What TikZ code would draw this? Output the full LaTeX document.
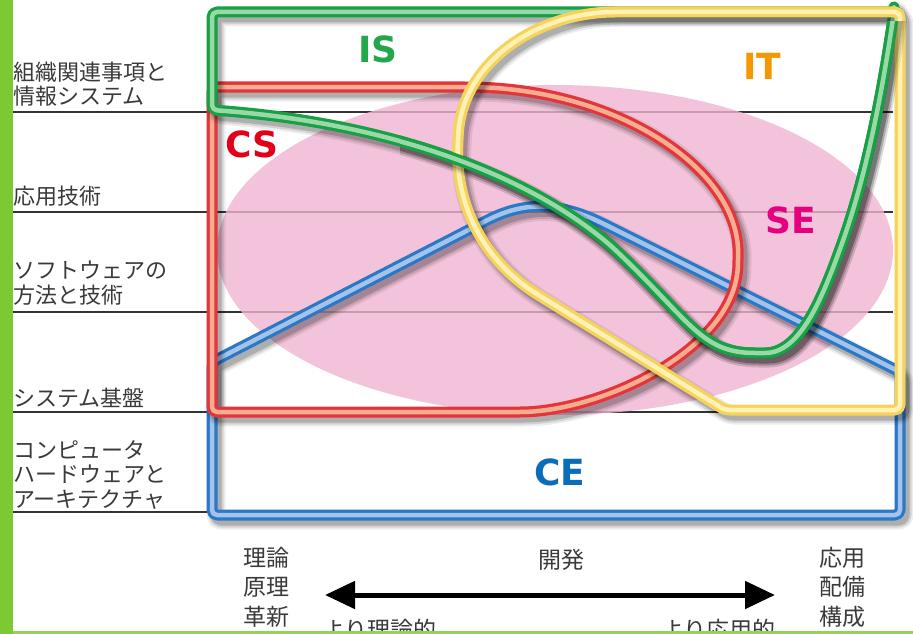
\documentclass[tikz,border=0pt]{standalone}
\usepackage{fontspec}
\newfontfamily\jp{Noto Sans CJK JP}
\newfontfamily\lat{DejaVu Sans}
\usetikzlibrary{arrows.meta}
\definecolor{gbar}{HTML}{7CC934}
\definecolor{gline}{HTML}{8ED456}
\definecolor{txtgray}{HTML}{3A3A3A}
\definecolor{rowline}{HTML}{333333}
\definecolor{pinkfill}{RGB}{239,181,209}
\definecolor{gd}{HTML}{17A045}
\definecolor{gl}{HTML}{9AD8A8}
\definecolor{rd}{HTML}{E4353A}
\definecolor{rl}{HTML}{F6AE92}
\definecolor{bd}{HTML}{2A78C6}
\definecolor{bl}{HTML}{A3C3EA}
\definecolor{yd}{HTML}{F5D35C}
\definecolor{yl}{HTML}{FFF2B4}
\definecolor{cIS}{HTML}{22A84A}
\definecolor{cCS}{HTML}{E3001B}
\definecolor{cIT}{HTML}{F39800}
\definecolor{cSE}{HTML}{E4007F}
\definecolor{cCE}{HTML}{0B6DB7}
\tikzset{
  shad/.style={draw=black, line join=round, rounded corners=5pt, shift={(4,5)}},
  jptext/.style={font=\jp\fontsize{22}{24.5}\selectfont, align=left, inner sep=0pt, text=txtgray, anchor=west},
  jpb/.style={font=\jp\fontsize{23}{29.5}\selectfont, align=center, inner sep=0pt, text=txtgray},
  biglab/.style={font=\lat\bfseries\fontsize{36}{36}\selectfont, inner sep=0pt},
  rowrule/.style={draw=rowline, line width=1.5pt}
}
\newcommand\myframe[3]{%
  \draw[shad, line width=19pt, draw opacity=0.07] #3;
  \draw[shad, line width=15pt, draw opacity=0.11] #3;
  \draw[shad, line width=11pt, draw opacity=0.17] #3;
  \draw[line width=11pt, draw=#1, rounded corners=5pt, line join=round] #3;
  \draw[line width=4.5pt, draw=#2, rounded corners=5pt, line join=round] #3;
}
\begin{document}
\begin{tikzpicture}[x=1pt,y=-1pt]
\useasboundingbox (0,0) rectangle (913,634);
\clip (0,0) rectangle (913,634);
\fill[white] (0,0) rectangle (913,634);
% left bar
\fill[gbar] (0,0) rectangle (12.5,634);
% row lines
\foreach \yy in {112,212,312,412,512} {
  \draw[rowrule] (13,\yy) -- (893,\yy);
}
% pink ellipse SE
\fill[pinkfill, fill opacity=0.8] (555,250) ellipse [x radius=338, y radius=165];
% CE blue
\myframe{bd}{bl}{(212,515) -- (212,362) -- (480,224) .. controls (525,200) and (560,202) .. (610,227) -- (900,372) -- (900,515) -- cycle}
% CS red
\myframe{rd}{rl}{(212,412) -- (212,87) -- (470,87) .. controls (620,90) and (740,170) .. (738,260) .. controls (736,350) and (600,412) .. (515,412) -- cycle}
% IS green
\myframe{gd}{gl}{(894,12) -- (212,12) -- (212,110) .. controls (380,122) and (520,170) .. (610,245) .. controls (690,320) and (700,353) .. (760,353) .. controls (800,353) and (822,300) .. (845,235) .. controls (870,160) and (884,80) .. cycle}
% IT yellow
\myframe{yd}{yl}{(725,410) -- (540,296) .. controls (480,258) and (455,200) .. (458,140) .. controls (462,60) and (540,12) .. (620,12) -- (900,12) -- (900,410) -- cycle}
% green curve over yellow
\begin{scope}
\clip (400,22) rectangle (913,634);
\myframe{gd}{gl}{(212,110) .. controls (380,122) and (520,170) .. (610,245) .. controls (690,320) and (700,353) .. (760,353) .. controls (800,353) and (822,300) .. (845,235) .. controls (870,160) and (884,80) .. (894,12)}
\end{scope}
% big labels
\node[biglab, text=cIS] (IS) at (378,49) {IS};
\node[biglab, text=cCS] (CS) at (252,144) {CS};
\node[biglab, text=cIT] (IT) at (762,66) {IT};
\node[biglab, text=cSE] (SE) at (791,220) {SE};
\node[biglab, text=cCE] (CE) at (560,472) {CE};
% left labels
\node[jptext] (l1) at (13,84) {組織関連事項と\\情報システム};
\node[jptext] (l2) at (13,196) {応用技術};
\node[jptext] (l3) at (13,283) {ソフトウェアの\\方法と技術};
\node[jptext] (l4) at (13,398) {システム基盤};
\node[jptext] (l5) at (13,475) {コンピュータ\\ハードウェアと\\アーキテクチャ};
% bottom labels
\node[jpb] (b1) at (266,587) {理論\\原理\\革新};
\node[jpb] (b2) at (842,587) {応用\\配備\\構成};
\node[jpb] (b3) at (561,560) {開発};
\node[jpb, anchor=west] (b4) at (322,630) {より理論的};
\node[jpb, anchor=east] (b5) at (776,630) {より応用的};
% arrow
\coordinate (al) at (325,595);
\coordinate (ar) at (775,595);
\draw[line width=5pt, {Triangle[length=30pt,width=27pt]}-{Triangle[length=30pt,width=27pt]}] (al) -- (ar);
% bottom green line
\fill[gline] (13,631) rectangle (913,634);
\end{tikzpicture}
\end{document}
